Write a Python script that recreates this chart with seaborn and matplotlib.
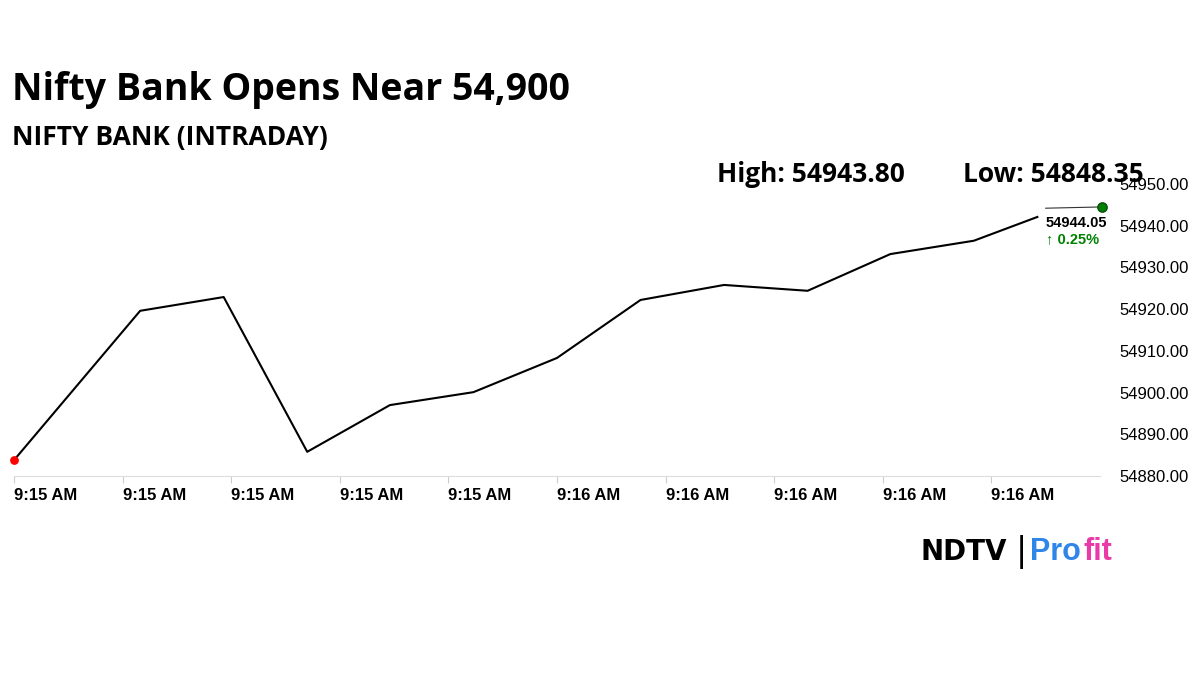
import matplotlib
matplotlib.use("Agg")
import matplotlib.pyplot as plt
import seaborn as sns
import numpy as np
import pandas as pd

times = [0, 1.51, 2.51, 3.51, 4.50, 5.50, 6.50, 7.50, 8.50, 9.50, 10.49, 11.49, 12.25]
prices = [54883.8, 54919.6, 54922.9, 54885.8, 54897.0, 54900.1, 54908.3,
          54922.2, 54925.8, 54924.4, 54933.2, 54936.4, 54942.1]
last_x = 13.02
last_price = 54944.5
last_label = "54944.05"
change_label = "\u2191 0.25%"
tick_labels = ["9:15 AM"] * 5 + ["9:16 AM"] * 5
tick_pos = [i * 1.3 for i in range(10)]
y_ticks = [54880, 54890, 54900, 54910, 54920, 54930, 54940, 54950]

df = pd.DataFrame({"t": times, "p": prices})
fig = plt.figure(figsize=(12, 6.75), dpi=100)
ax = fig.add_axes([14/1200, 1-476/675, (1100-14)/1200, (476-184)/675])
sns.lineplot(data=df, x="t", y="p", color="black", lw=1.5, ax=ax)
ax.plot([12.35, last_x], [last_price - 0.3, last_price], color="#333333", lw=0.8, clip_on=False)
ax.scatter([times[0]], [prices[0]], color="red", s=28, zorder=5, clip_on=False)
ax.scatter([last_x], [last_price], color="green", s=45, edgecolor="#0a4d0a", zorder=5, clip_on=False)
ax.text(12.35, last_price - 3.8, last_label, ha="left", va="center", fontsize=10.5,
        fontweight="bold", family="Liberation Sans")
ax.text(12.35, last_price - 7.6, change_label, ha="left", va="center", fontsize=10.5,
        fontweight="bold", color="green", family="Liberation Sans")
ax.set_xlim(0, 13)
ax.set_ylim(54880, 54950)
ax.set_xticks(tick_pos)
ax.set_xticklabels(tick_labels, fontsize=12, family="Liberation Sans", ha="left", fontweight="semibold")
ax.yaxis.tick_right()
ax.set_yticks(y_ticks)
ax.set_yticklabels([f"{v:.2f}" for v in y_ticks], fontsize=12, family="Liberation Sans")
ax.tick_params(axis="y", length=0, pad=14)
ax.tick_params(axis="x", length=5, color="#cccccc", pad=4)
for s in ["top", "left", "right"]:
    ax.spines[s].set_visible(False)
ax.spines["bottom"].set_color("#dddddd")
ax.set_xlabel(""); ax.set_ylabel("")

fig.text(12/1200, 1-90/675, "Nifty Bank Opens Near 54,900", fontsize=27, fontweight="bold",
         family="Open Sans", va="center")
fig.text(12/1200, 1-138/675, "NIFTY BANK (INTRADAY)", fontsize=19, fontweight="bold",
         family="Open Sans", va="center")
fig.text(717/1200, 1-174/675, "High: 54943.80", fontsize=19, fontweight="bold",
         family="Open Sans", va="center")
fig.text(963/1200, 1-174/675, "Low: 54848.35", fontsize=19, fontweight="bold",
         family="Open Sans", va="center")
fig.text(920/1200, 1-552/675, "NDTV", fontsize=20, fontweight="heavy", family="DejaVu Sans", va="center")
fig.text(1016/1200, 1-552/675, "|", fontsize=24, family="DejaVu Sans", va="center")
fig.text(1030/1200, 1-552/675, "Pro", fontsize=22, fontweight="bold", color="#2f86e8", family="Liberation Sans", va="center")
fig.text(1083/1200, 1-552/675, "fit", fontsize=22, fontweight="bold", color="#e93aa8", family="Liberation Sans", va="center")
fig.savefig("out.png", dpi=100)
